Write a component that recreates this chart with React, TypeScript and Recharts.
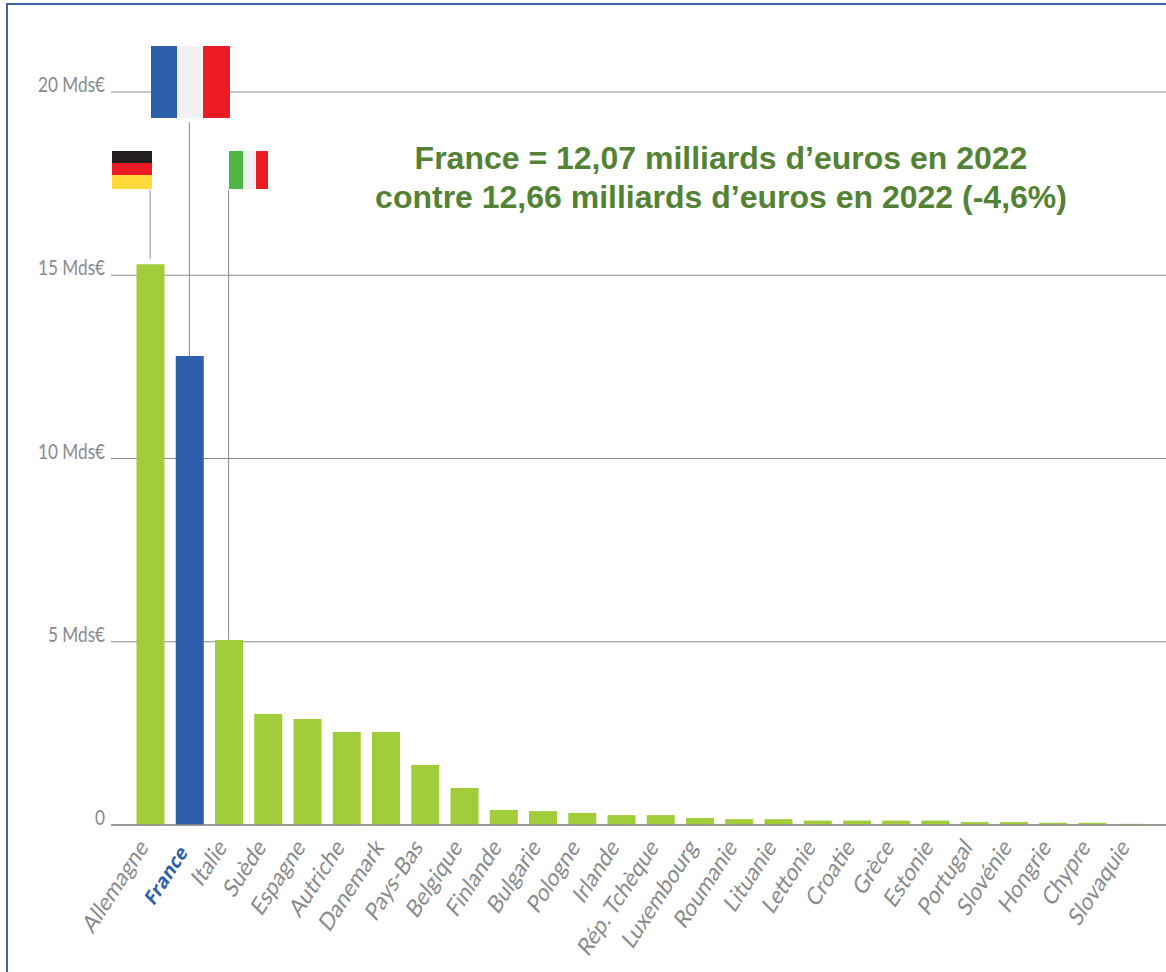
import { BarChart, Bar, XAxis, YAxis, CartesianGrid, Cell, Customized, ReferenceLine } from 'recharts';

const countries = [
    'Allemagne', 'France', 'Italie', 'Suède', 'Espagne', 'Autriche', 'Danemark', 'Pays-Bas', 'Belgique',
    'Finlande', 'Bulgarie', 'Pologne', 'Irlande', 'Rép. Tchèque', 'Luxembourg', 'Roumanie', 'Lituanie',
    'Lettonie', 'Croatie', 'Grèce', 'Estonie', 'Portugal', 'Slovénie', 'Hongrie', 'Chypre', 'Slovaquie',
];
const amounts = [
    15.3, 12.8, 5.05, 3.03, 2.89, 2.54, 2.54, 1.64, 1.01, 0.41, 0.38, 0.33, 0.27, 0.27, 0.19, 0.16, 0.16,
    0.12, 0.12, 0.12, 0.12, 0.08, 0.08, 0.06, 0.06, 0.03,
];
const yTicks = [0, 5, 10, 15, 20];
const titleLines = ['France = 12,07 milliards d’euros en 2022', 'contre 12,66 milliards d’euros en 2022 (-4,6%)'];

const data = countries.map((name, i) => ({ name, amount: amounts[i] }));

const GREEN = '#a2cd3a';
const BLUE = '#2e5fac';
const GREY = '#8a8b8d';
const FONT = 'Lato, sans-serif';

function YTick({ x, y, payload }: any) {
    const label = payload.value === 0 ? '0' : `${payload.value} Mds€`;
    return (
        <g transform={`translate(${x},${y}) scale(0.78,1)`}>
            <text textAnchor="end" fill={GREY} fontFamily={FONT} fontSize={22} fontWeight={400}>
                {label}
            </text>
        </g>
    );
}

function XTick({ x, y, payload }: any) {
    const isFrance = payload.value === 'France';
    return (
        <g transform={`translate(${x - 1},${y + (isFrance ? 20 : 15)}) rotate(-57) skewX(-12)`}>
            <text
                textAnchor="end"
                fill={isFrance ? BLUE : GREY}
                fontFamily={isFrance ? 'Open Sans, sans-serif' : FONT}
                fontSize={isFrance ? 19 : 22.5}
                fontWeight={isFrance ? 700 : 400}
            >
                {payload.value}
            </text>
        </g>
    );
}

function Flags() {
    return (
        <g>
            <rect x={151} y={46} width={26} height={72} fill={BLUE} />
            <rect x={177} y={46} width={26} height={72} fill="#f1f1f2" />
            <rect x={203} y={46} width={27} height={72} fill="#ed1c24" />

            <rect x={112} y={151} width={40} height={12} fill="#231f20" />
            <rect x={112} y={163} width={40} height={12} fill="#ed1c24" />
            <rect x={112} y={175} width={40} height={14} fill="#ffd83a" />

            <rect x={229} y={151} width={14} height={38} fill="#4db848" />
            <rect x={243} y={151} width={13} height={38} fill="#f1f1f2" />
            <rect x={256} y={151} width={12} height={38} fill="#ed1c24" />

            {titleLines.map((line, i) => (
                <text
                    key={line}
                    x={721}
                    y={169 + i * 39}
                    textAnchor="middle"
                    fill="#548235"
                    fontFamily="Liberation Sans, Arial, sans-serif"
                    fontWeight={700}
                    fontSize={32}
                >
                    {line}
                </text>
            ))}
        </g>
    );
}

export default function App() {
    return (
        <div style={{ position: 'absolute', left: 0, top: 0, width: 1166, height: 972, background: '#fff', overflow: 'hidden' }}>
            <div style={{ position: 'absolute', left: 6, top: 3, width: 1160, height: 969, borderLeft: '2px solid #3a66a8', borderTop: '2px solid #3a66a8', boxSizing: 'border-box' }} />
            <BarChart
                width={1166}
                height={972}
                data={data}
                margin={{ top: 92, right: 0, bottom: 0, left: 0 }}
                style={{ position: 'absolute', left: 0, top: 0 }}
            >
                <CartesianGrid horizontal vertical={false} stroke={GREY} strokeWidth={1.2} />
                <XAxis
                    dataKey="name"
                    interval={0}
                    height={147}
                    padding={{ left: 19.5, right: 15 }}
                    axisLine={{ stroke: GREY, strokeWidth: 1.5 }}
                    tickLine={false}
                    tick={<XTick />}
                />
                <YAxis
                    domain={[0, 20]}
                    ticks={yTicks}
                    width={111}
                    axisLine={false}
                    tickLine={false}
                    tickMargin={0}
                    tick={<YTick />}
                />
                <Bar dataKey="amount" barSize={28} isAnimationActive={false}>
                    {data.map((entry) => (
                        <Cell key={entry.name} fill={entry.name === 'France' ? BLUE : GREEN} />
                    ))}
                </Bar>
                <ReferenceLine ifOverflow="visible" stroke={GREY} segment={[{ x: 'Allemagne', y: 15.45 }, { x: 'Allemagne', y: 17.33 }]} />
                <ReferenceLine ifOverflow="visible" stroke={GREY} segment={[{ x: 'France', y: 12.8 }, { x: 'France', y: 19.18 }]} />
                <ReferenceLine ifOverflow="visible" stroke={GREY} segment={[{ x: 'Italie', y: 5.05 }, { x: 'Italie', y: 17.33 }]} />
                <Customized component={<Flags />} />
            </BarChart>
        </div>
    );
}
